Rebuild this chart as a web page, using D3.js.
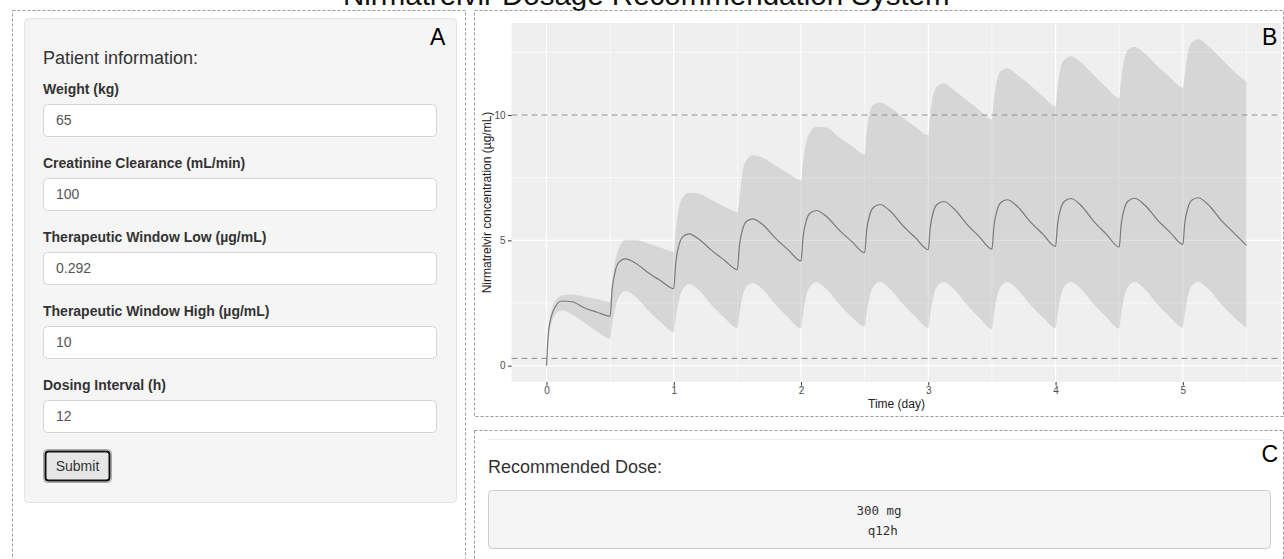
<!DOCTYPE html>
<html>
<head>
<meta charset="utf-8">
<script src="https://cdn.jsdelivr.net/npm/d3@7"></script>
<style>
  body { margin: 0; background: #fff; }
  svg { display: block; font-family: "Liberation Sans", Arial, sans-serif; }
</style>
</head>
<body>
<svg width="1284" height="559"></svg>
<script>
// Simulated concentration profile (day vs ug/mL)
const time = [0, 0.015, 0.04, 0.07, 0.12, 0.2, 0.3, 0.4,
    0.5, 0.515, 0.54, 0.57, 0.62, 0.7, 0.8, 0.9,
    1.0, 1.015, 1.04, 1.07, 1.12, 1.2, 1.3, 1.4,
    1.5, 1.515, 1.54, 1.57, 1.62, 1.7, 1.8, 1.9,
    2.0, 2.015, 2.04, 2.07, 2.12, 2.2, 2.3, 2.4,
    2.5, 2.515, 2.54, 2.57, 2.62, 2.7, 2.8, 2.9,
    3.0, 3.015, 3.04, 3.07, 3.12, 3.2, 3.3, 3.4,
    3.5, 3.515, 3.54, 3.57, 3.62, 3.7, 3.8, 3.9,
    4.0, 4.015, 4.04, 4.07, 4.12, 4.2, 4.3, 4.4,
    4.5, 4.515, 4.54, 4.57, 4.62, 4.7, 4.8, 4.9,
    5.0, 5.015, 5.04, 5.07, 5.12, 5.2, 5.3, 5.4,
    5.5];

const median = [0, 1.3, 2.0, 2.35, 2.58, 2.55, 2.30, 2.13,
    1.97, 3.0, 3.76, 4.13, 4.26, 4.09, 3.71, 3.38,
    3.07, 4.06, 4.79, 5.14, 5.26, 5.03, 4.59, 4.20,
    3.83, 4.75, 5.42, 5.75, 5.86, 5.62, 5.08, 4.62,
    4.18, 5.09, 5.76, 6.08, 6.19, 5.95, 5.41, 4.95,
    4.51, 5.38, 6.02, 6.32, 6.43, 6.17, 5.59, 5.10,
    4.63, 5.50, 6.14, 6.44, 6.55, 6.27, 5.66, 5.15,
    4.65, 5.54, 6.19, 6.51, 6.62, 6.35, 5.75, 5.25,
    4.76, 5.62, 6.26, 6.56, 6.67, 6.39, 5.76, 5.24,
    4.73, 5.61, 6.26, 6.57, 6.68, 6.41, 5.82, 5.32,
    4.84, 5.68, 6.30, 6.60, 6.70, 6.42, 5.81, 5.30,
    4.80];

const upper = [0, 1.35, 2.2, 2.6, 2.8, 2.84, 2.75, 2.65,
    2.54, 3.3, 4.2, 4.7, 5.02, 5.02, 4.87, 4.7,
    4.54, 5.4, 6.25, 6.7, 6.9, 6.86, 6.6, 6.34,
    6.13, 6.6, 7.7, 8.2, 8.4, 8.3, 7.98, 7.67,
    7.40, 8.1, 8.9, 9.3, 9.53, 9.5, 9.1, 8.76,
    8.43, 9.3, 10.1, 10.42, 10.5, 10.3, 9.9, 9.52,
    9.19, 10.0, 10.8, 11.15, 11.27, 11.0, 10.6, 10.2,
    9.82, 10.6, 11.4, 11.75, 11.87, 11.6, 11.2, 10.75,
    10.35, 11.1, 11.9, 12.2, 12.34, 12.1, 11.6, 11.1,
    10.68, 11.4, 12.2, 12.6, 12.72, 12.45, 11.95, 11.5,
    11.1, 11.6, 12.5, 12.88, 13.02, 12.75, 12.25, 11.75,
    11.32];

const lower = [0, 1.0, 1.7, 2.05, 2.2, 2.05, 1.7, 1.35,
    1.08, 1.6, 2.3, 2.75, 2.98, 2.75, 2.2, 1.72,
    1.34, 1.9, 2.6, 3.05, 3.26, 3.0, 2.4, 1.9,
    1.5, 2.05, 2.75, 3.15, 3.3, 3.03, 2.43, 1.92,
    1.48, 2.05, 2.75, 3.15, 3.33, 3.05, 2.45, 1.93,
    1.57, 2.1, 2.8, 3.18, 3.34, 3.06, 2.46, 1.95,
    1.5, 2.05, 2.78, 3.17, 3.34, 3.06, 2.45, 1.92,
    1.46, 2.03, 2.76, 3.16, 3.34, 3.05, 2.44, 1.92,
    1.5, 2.05, 2.78, 3.17, 3.34, 3.06, 2.45, 1.93,
    1.48, 2.04, 2.77, 3.16, 3.34, 3.06, 2.45, 1.93,
    1.52, 2.07, 2.79, 3.18, 3.34, 3.06, 2.46, 1.94,
    1.5];

const xTicks = [0, 1, 2, 3, 4, 5];
const xMinor = [0.5, 1.5, 2.5, 3.5, 4.5, 5.5];
const yTicks = [0, 5, 10];
const yMinor = [2.5, 7.5, 12.5];
const windowLines = [0.292, 10];   // therapeutic window low / high

const fieldLabels = ["Weight (kg)", "Creatinine Clearance (mL/min)",
    "Therapeutic Window Low (\u00b5g/mL)", "Therapeutic Window High (\u00b5g/mL)",
    "Dosing Interval (h)"];
const fieldValues = ["65", "100", "0.292", "10", "12"];
const doseLines = ["300 mg", " q12h"];

const svg = d3.select("svg");

// Page title (mostly cut off at the top edge, as in the app screenshot)
svg.append("text")
    .attr("x", 343).attr("y", 5)
    .style("font-size", "29.5px")
    .attr("fill", "#111")
    .text("Nirmatrelvir Dosage Recommendation System");

// Dashed panel borders
const panels = [
    {x: 12.5, y: 10.5, w: 453, h: 600},
    {x: 474.5, y: 10.5, w: 809, h: 406},
    {x: 474.5, y: 430.5, w: 809, h: 200}
];
svg.selectAll(".panel")
    .data(panels)
    .join("rect")
    .attr("class", "panel")
    .attr("x", d => d.x).attr("y", d => d.y)
    .attr("width", d => d.w).attr("height", d => d.h)
    .attr("fill", "none")
    .attr("stroke", "#9a9a9a")
    .attr("stroke-dasharray", "3,2");

/* Panel A: input form */

svg.append("rect")
    .attr("x", 24.5).attr("y", 18.5)
    .attr("width", 432).attr("height", 484)
    .attr("rx", 4)
    .attr("fill", "#f5f5f5")
    .attr("stroke", "#e3e3e3");

svg.append("text")
    .attr("x", 43).attr("y", 64)
    .style("font-size", "18px")
    .attr("fill", "#333")
    .text("Patient information:");

const field = svg.selectAll(".field")
    .data(fieldLabels)
    .join("g")
    .attr("class", "field")
    .attr("transform", (d, i) => `translate(43,${94 + i * 74})`);

field.append("text")
    .attr("x", 0).attr("y", 0)
    .style("font-size", "14px")
    .style("font-weight", "bold")
    .attr("fill", "#333")
    .text(d => d);

field.append("rect")
    .attr("x", 0.5).attr("y", 10.5)
    .attr("width", 393).attr("height", 32)
    .attr("rx", 4)
    .attr("fill", "#fff")
    .attr("stroke", "#d4d4d4");

field.append("text")
    .attr("x", 13).attr("y", 31)
    .style("font-size", "14px")
    .attr("fill", "#555")
    .text((d, i) => fieldValues[i]);

// Submit button (focused)
svg.append("rect")
    .attr("x", 43.5).attr("y", 449.5)
    .attr("width", 68).attr("height", 33)
    .attr("rx", 4)
    .attr("fill", "#e6e6e6")
    .attr("stroke", "#aaa");
svg.append("rect")
    .attr("x", 45.5).attr("y", 451.5)
    .attr("width", 64).attr("height", 29)
    .attr("rx", 3)
    .attr("fill", "none")
    .attr("stroke", "#111")
    .attr("stroke-width", 2);
svg.append("text")
    .attr("x", 77.5).attr("y", 471)
    .attr("text-anchor", "middle")
    .style("font-size", "14px")
    .attr("fill", "#333")
    .text("Submit");

/* Panel B: concentration-time plot */

const yMax = d3.max(upper);
const x = d3.scaleLinear()
    .domain([-0.05 * 5.5, 5.5 * 1.05])
    .range([511.5, 1281.5]);
const y = d3.scaleLinear()
    .domain([-0.05 * yMax, yMax * 1.05])
    .range([382, 23]);

const plot = svg.append("g");

plot.append("rect")
    .attr("x", x.range()[0]).attr("y", y.range()[1])
    .attr("width", x.range()[1] - x.range()[0])
    .attr("height", y.range()[0] - y.range()[1])
    .attr("fill", "#efefef");

// grid
plot.selectAll(".xminor").data(xMinor).join("line")
    .attr("x1", d => x(d)).attr("x2", d => x(d))
    .attr("y1", y.range()[1]).attr("y2", y.range()[0])
    .attr("stroke", "#fff").attr("stroke-width", 0.6);
plot.selectAll(".yminor").data(yMinor).join("line")
    .attr("x1", x.range()[0]).attr("x2", x.range()[1])
    .attr("y1", d => y(d)).attr("y2", d => y(d))
    .attr("stroke", "#fff").attr("stroke-width", 0.6);
plot.selectAll(".xmajor").data(xTicks).join("line")
    .attr("x1", d => x(d)).attr("x2", d => x(d))
    .attr("y1", y.range()[1]).attr("y2", y.range()[0])
    .attr("stroke", "#fff").attr("stroke-width", 1.2);
plot.selectAll(".ymajor").data(yTicks).join("line")
    .attr("x1", x.range()[0]).attr("x2", x.range()[1])
    .attr("y1", d => y(d)).attr("y2", d => y(d))
    .attr("stroke", "#fff").attr("stroke-width", 1.2);

const profile = time.map((t, i) => ({t: t, m: median[i], lo: lower[i], hi: upper[i]}));

const area = d3.area()
    .curve(d3.curveMonotoneX)
    .x(d => x(d.t))
    .y0(d => y(d.lo))
    .y1(d => y(d.hi));

const line = d3.line()
    .curve(d3.curveMonotoneX)
    .x(d => x(d.t))
    .y(d => y(d.m));

plot.append("path")
    .datum(profile)
    .attr("d", area)
    .attr("fill", "#a9a9a9")
    .attr("fill-opacity", 0.35);

plot.append("path")
    .datum(profile)
    .attr("d", line)
    .attr("fill", "none")
    .attr("stroke", "#7a7a7a")
    .attr("stroke-width", 1.2);

plot.selectAll(".window").data(windowLines).join("line")
    .attr("x1", x.range()[0]).attr("x2", x.range()[1])
    .attr("y1", d => y(d)).attr("y2", d => y(d))
    .attr("stroke", "#8a8a8a")
    .attr("stroke-width", 1)
    .attr("stroke-dasharray", "6,4");

// axes
const yAxis = plot.append("g")
    .attr("transform", `translate(${x.range()[0]},0)`)
    .call(d3.axisLeft(y).tickValues(yTicks).tickFormat(d3.format("d"))
        .tickSize(3.5).tickPadding(2.5));
const xAxis = plot.append("g")
    .attr("transform", `translate(0,${y.range()[0]})`)
    .call(d3.axisBottom(x).tickValues(xTicks).tickFormat(d3.format("d"))
        .tickSize(3.5).tickPadding(1.5));

[xAxis, yAxis].forEach(ax => {
    ax.select(".domain").remove();
    ax.selectAll(".tick line").attr("stroke", "#333");
    ax.selectAll(".tick text")
        .attr("fill", "#4d4d4d")
        .style("font-size", "10px")
        .style("font-family", "'Liberation Sans', Arial, sans-serif");
});

plot.append("text")
    .attr("x", (x.range()[0] + x.range()[1]) / 2)
    .attr("y", 407.5)
    .attr("text-anchor", "middle")
    .style("font-size", "12px")
    .attr("fill", "#222")
    .text("Time (day)");

plot.append("text")
    .attr("transform", `translate(491,${(y.range()[0] + y.range()[1]) / 2}) rotate(-90)`)
    .attr("text-anchor", "middle")
    .style("font-size", "12px")
    .attr("fill", "#222")
    .text("Nirmatrelvir concentration (\u00b5g/mL)");

/* Panel C: recommendation */

svg.append("line")
    .attr("x1", 488).attr("x2", 1271)
    .attr("y1", 439.5).attr("y2", 439.5)
    .attr("stroke", "#eee");

svg.append("text")
    .attr("x", 488).attr("y", 473)
    .style("font-size", "18px")
    .attr("fill", "#333")
    .text("Recommended Dose:");

svg.append("rect")
    .attr("x", 488.5).attr("y", 490.5)
    .attr("width", 782).attr("height", 58)
    .attr("rx", 4)
    .attr("fill", "#f5f5f5")
    .attr("stroke", "#ccc");

svg.selectAll(".dose")
    .data(doseLines)
    .join("text")
    .attr("class", "dose")
    .attr("x", 879)
    .attr("y", (d, i) => 515 + i * 20)
    .attr("text-anchor", "middle")
    .style("font-family", "'DejaVu Sans Mono', monospace")
    .style("font-size", "12.5px")
    .style("white-space", "pre")
    .attr("fill", "#333")
    .text(d => d);

// Panel letters
const letters = [["A", 430, 45], ["B", 1262, 45], ["C", 1261.5, 461.5]];
svg.selectAll(".letter")
    .data(letters)
    .join("text")
    .attr("class", "letter")
    .attr("x", d => d[1]).attr("y", d => d[2])
    .style("font-size", "23px")
    .attr("fill", "#000")
    .text(d => d[0]);
</script>
</body>
</html>
